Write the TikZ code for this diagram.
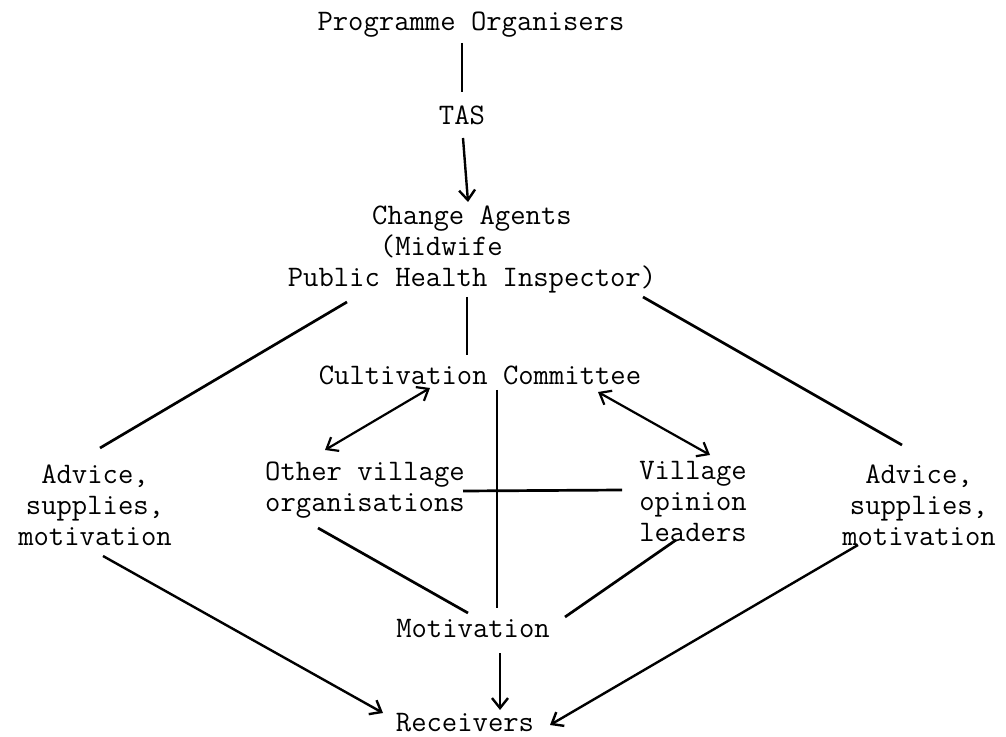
\documentclass[tikz,border=0pt]{standalone}
\usepackage{fontspec}
\usetikzlibrary{calc, arrows.meta}

\begin{document}
\begin{tikzpicture}[x=0.5pt, y=-0.5pt,
    txt/.style={inner sep=0pt, align=center, font=\ttfamily\fontsize{14.9}{15.5}\selectfont\addfontfeatures{FakeBold=1.5}},
    link/.style={line width=1.35pt},
    onehead/.style={line width=1.2pt, -{Straight Barb[length=5pt, width=8pt]}},
    twohead/.style={line width=1.1pt, {Straight Barb[length=5pt, width=8pt]}-{Straight Barb[length=5pt, width=8pt]}}]
    \useasboundingbox (0,0) rectangle (1006,737);

    % Place the texts
    \node[txt] (po) at (471,25) {Programme Organisers};
    \node[txt] (tas) at (462,115) {TAS};
    \node[txt] (ca) at (472,249) {Change Agents\\(Midwife\phantom{xxxx}\\Public Health Inspector)};
    \node[txt] (cc) at (480,375) {Cultivation Committee};
    \node[txt] (advl) at (95,505) {Advice,\\supplies,\\motivation};
    \node[txt] (ovo) at (365,490) {Other village\\organisations};
    \node[txt] (vol) at (693,501) {Village\\opinion\\leaders};
    \node[txt] (advr) at (919,505) {Advice,\\supplies,\\motivation};
    \node[txt] (mot) at (473,628) {Motivation};
    \node[txt] (rec) at (465,723) {Receivers};

    % Top of the chain
    \draw[link] ($(po)+(-9,18)$) -- ($(tas)+(0,-23)$);
    \draw[onehead] ($(tas)+(1,23)$) -- ($(ca)+(-4,-47)$);
    \draw[link] ($(ca)+(-5,48)$) -- ($(cc)+(-13,-20)$);

    % Change agents to the two sides
    \draw[link] ($(ca)+(-125,53)$) -- ($(advl)+(5,-57)$);
    \draw[link] ($(ca)+(171,48)$) -- ($(advr)+(-17,-60)$);

    % Committee and the village groups
    \draw[twohead] ($(cc)+(-50,13)$) -- ($(ovo)+(-40,-40)$);
    \draw[twohead] ($(cc)+(118,17)$) -- ($(vol)+(17,-46)$);
    \draw[link] ($(cc)+(17,15)$) -- ($(mot)+(24,-20)$);
    \draw[link] ($(ovo)+(98,1)$) -- ($(vol)+(-71,-11)$);

    % Into motivation
    \draw[link] ($(ovo)+(-47,38)$) -- ($(mot)+(-5,-15)$);
    \draw[link] ($(vol)+(-17,39)$) -- ($(mot)+(92,-11)$);

    % Down to the receivers
    \draw[onehead] ($(mot)+(27,25)$) -- ($(rec)+(35,-13)$);
    \draw[onehead] ($(advl)+(8,51)$) -- ($(rec)+(-82,-10)$);
    \draw[onehead] ($(advr)+(-61,40)$) -- ($(rec)+(85,2)$);
\end{tikzpicture}
\end{document}
